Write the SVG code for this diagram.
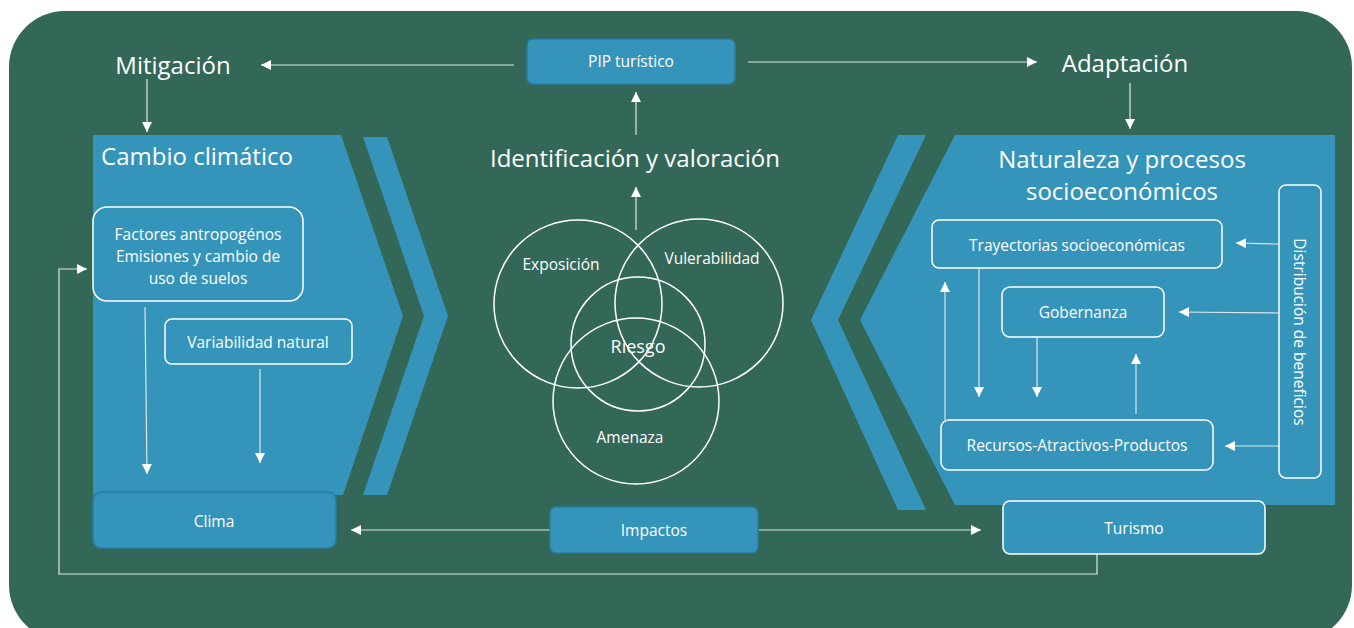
<svg xmlns="http://www.w3.org/2000/svg" width="1354" height="628" viewBox="0 0 1354 628">
<style>
text{font-family:"Open Sans","Liberation Sans",sans-serif;fill:#ffffff;text-anchor:middle;dominant-baseline:central}
.big{font-size:24px}
.sm{font-size:15.5px}
.blue{fill:#3594ba}
.box{fill:#3594ba;stroke:#ffffff;stroke-width:1.5}
.dbox{fill:#3594ba;stroke:#2b7ba0;stroke-width:1.5}
.ln{fill:none;stroke:#dfe6e3;stroke-width:1.2}
.cir{fill:none;stroke:#ffffff;stroke-width:1.5}
</style>
<defs>
<marker id="ah" markerUnits="userSpaceOnUse" markerWidth="10" markerHeight="10" viewBox="0 0 10 10" refX="10" refY="5" orient="auto">
<path d="M0,0 L10,5 L0,10 z" fill="#ffffff"/>
</marker>
</defs>
<rect x="9" y="11" width="1343" height="630" rx="56" fill="#336858"/>

<g id="cambio">
<polygon class="blue" points="93,135 341,135 403,316 343,495 93,495"/>
<polygon class="blue" points="363,137 387,137 448,316 387,495 363,495 424,316"/>
<text class="big" x="197" y="155">Cambio climático</text>
</g>
<g id="naturaleza">
<polygon class="blue" points="955,135 1335,135 1335,505 955,505 860,320"/>
<polygon class="blue" points="898,135 926,135 838,320 926,510 898,510 811,320"/>
<text class="big" x="1122" y="158">Naturaleza y procesos</text>
<text class="big" x="1122" y="190">socioeconómicos</text>
</g>

<g id="connectors">
<line class="ln" x1="514" y1="65" x2="261" y2="65" marker-end="url(#ah)"/>
<line class="ln" x1="748" y1="62" x2="1037" y2="62" marker-end="url(#ah)"/>
<line class="ln" x1="147" y1="79" x2="147" y2="132" marker-end="url(#ah)"/>
<line class="ln" x1="1130" y1="83" x2="1130" y2="129" marker-end="url(#ah)"/>
<line class="ln" x1="636" y1="135" x2="636" y2="92" marker-end="url(#ah)"/>
<line class="ln" x1="636" y1="230" x2="636" y2="187" marker-end="url(#ah)"/>
<line class="ln" x1="145" y1="307" x2="147" y2="474" marker-end="url(#ah)"/>
<line class="ln" x1="260" y1="369" x2="260" y2="463" marker-end="url(#ah)"/>
<line class="ln" x1="550" y1="530" x2="351" y2="530" marker-end="url(#ah)"/>
<line class="ln" x1="758" y1="530" x2="981" y2="530" marker-end="url(#ah)"/>
<polyline class="ln" points="1097,554 1097,574 59,574 59,269 87,269" marker-end="url(#ah)"/>
<line class="ln" x1="1279" y1="244" x2="1236" y2="243" marker-end="url(#ah)"/>
<line class="ln" x1="1279" y1="313" x2="1179" y2="312" marker-end="url(#ah)"/>
<line class="ln" x1="1279" y1="446" x2="1225" y2="446" marker-end="url(#ah)"/>
<line class="ln" x1="979" y1="268" x2="979" y2="397" marker-end="url(#ah)"/>
<line class="ln" x1="1037" y1="337" x2="1037" y2="397" marker-end="url(#ah)"/>
<line class="ln" x1="1136" y1="414" x2="1136" y2="354" marker-end="url(#ah)"/>
<line class="ln" x1="945" y1="420" x2="945" y2="282" marker-end="url(#ah)"/>
</g>

<g id="mitigacion"><text class="big" x="173" y="64">Mitigación</text></g>
<g id="adaptacion"><text class="big" x="1125" y="62">Adaptación</text></g>
<g id="pip">
<rect class="dbox" x="527" y="39" width="208" height="45" rx="6"/>
<text class="sm" x="631" y="61">PIP turístico</text>
</g>
<g id="identificacion"><text class="big" x="635" y="157">Identificación y valoración</text></g>

<g id="factores">
<rect class="box" x="93" y="207" width="210" height="94" rx="14"/>
<text class="sm" x="198" y="234">Factores antropogénos</text>
<text class="sm" x="198" y="256">Emisiones y cambio de</text>
<text class="sm" x="198" y="278">uso de suelos</text>
</g>
<g id="variabilidad">
<rect class="box" x="165" y="319" width="187" height="45" rx="7"/>
<text class="sm" x="258" y="342">Variabilidad natural</text>
</g>
<g id="clima">
<rect class="dbox" x="93" y="492" width="243" height="56" rx="8"/>
<text class="sm" x="214" y="521">Clima</text>
</g>

<g id="venn">
<circle class="cir" cx="578" cy="304" r="84"/>
<circle class="cir" cx="699" cy="303" r="84"/>
<circle class="cir" cx="638" cy="344" r="67"/>
<circle class="cir" cx="636" cy="401" r="83"/>
<text class="sm" x="561" y="264">Exposición</text>
<text class="sm" x="712" y="258">Vulerabilidad</text>
<text x="638" y="346" style="font-size:18px">Riesgo</text>
<text class="sm" x="630" y="437">Amenaza</text>
</g>

<g id="impactos">
<rect class="dbox" x="550" y="507" width="208" height="46" rx="6"/>
<text class="sm" x="654" y="530">Impactos</text>
</g>
<g id="turismo">
<rect class="box" x="1003" y="501" width="262" height="53" rx="7"/>
<text class="sm" x="1134" y="528">Turismo</text>
</g>

<g id="trayectorias">
<rect class="box" x="932" y="220" width="290" height="48" rx="7"/>
<text class="sm" x="1077" y="245">Trayectorias socioeconómicas</text>
</g>
<g id="gobernanza">
<rect class="box" x="1002" y="287" width="162" height="50" rx="8"/>
<text class="sm" x="1083" y="312">Gobernanza</text>
</g>
<g id="recursos">
<rect class="box" x="941" y="420" width="272" height="50" rx="8"/>
<text class="sm" x="1077" y="445">Recursos-Atractivos-Productos</text>
</g>
<g id="distribucion">
<rect class="box" x="1279" y="185" width="42" height="293" rx="7"/>
<text class="sm" transform="translate(1300,332) rotate(90)" x="0" y="0">Distribución de beneficios</text>
</g>
</svg>
